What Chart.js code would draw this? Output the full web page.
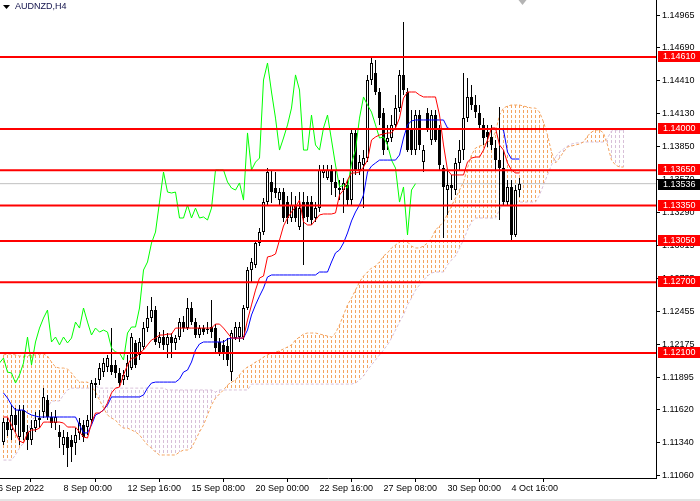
<!DOCTYPE html>
<html>
<head>
<meta charset="utf-8">
<script src="https://cdn.jsdelivr.net/npm/chart.js@4.4.0/dist/chart.umd.min.js"></script>
<style>
  html, body { margin: 0; padding: 0; background: #fff; overflow: hidden; }
</style>
</head>
<body>
<canvas id="ichimoku" width="700" height="501"></canvas>
<script>
// AUDNZD H4, one entry per bar (bar 0 = leftmost visible candle)
const opens = [
  1.11346,1.11515,1.11448,1.11575,1.11389,1.11617,1.11431,1.11363,1.11464,1.11532,
  1.11600,1.11702,1.11558,1.11507,1.11431,1.11321,1.11389,1.11363,1.11338,1.11423,
  1.11490,1.11473,1.11532,1.11846,1.11871,1.11939,1.11982,1.11999,1.11999,1.11931,
  1.11871,1.11897,1.11973,1.12186,1.12084,1.12152,1.12312,1.12397,1.12465,1.12186,
  1.12236,1.12169,1.12236,1.12186,1.12236,1.12363,1.12312,1.12482,1.12363,1.12253,
  1.12312,1.12304,1.12321,1.12312,1.12194,1.12169,1.12160,1.11939,1.12227,1.12236,
  1.12236,1.12482,1.12804,1.12847,1.13033,1.13126,1.13380,1.13550,1.13499,1.13397,
  1.13465,1.13380,1.13245,1.13355,1.13169,1.13380,1.13380,1.13380,1.13245,1.13329,
  1.13627,1.13584,1.13652,1.13550,1.13499,1.13482,1.13525,1.13397,1.13966,1.13652,
  1.13694,1.13753,1.14415,1.14475,1.14313,1.14135,1.13889,1.13923,1.14034,1.14177,
  1.14458,1.14313,1.13991,1.13821,1.14118,1.13719,1.14135,1.13906,1.14118,1.13991,
  1.13668,1.13482,1.13525,1.13482,1.13711,1.13821,1.14092,1.14271,1.14203,1.14135,
  1.14034,1.13974,1.13932,1.13838,1.13736,1.13668,1.13380,1.13508,1.13101,1.13482
];
const highs = [
  1.11549,1.11549,1.11660,1.11634,1.11660,1.11660,1.11490,1.11532,1.11600,1.11617,
  1.11803,1.11745,1.11600,1.11617,1.11490,1.11448,1.11431,1.11406,1.11464,1.11549,
  1.11532,1.11575,1.11871,1.11888,1.12016,1.12058,1.12084,1.12312,1.12041,1.11973,
  1.11956,1.12084,1.12270,1.12211,1.12227,1.12363,1.12499,1.12575,1.12499,1.12278,
  1.12295,1.12270,1.12270,1.12253,1.12397,1.12414,1.12566,1.12533,1.12397,1.12338,
  1.12338,1.12363,1.12550,1.12346,1.12227,1.12211,1.12227,1.12295,1.12363,1.12363,
  1.12508,1.12830,1.12906,1.13058,1.13160,1.13414,1.13668,1.13652,1.13635,1.13499,
  1.13499,1.13431,1.13465,1.13431,1.13465,1.13465,1.13431,1.13431,1.13380,1.13694,
  1.13694,1.13694,1.13694,1.13652,1.13567,1.13584,1.13567,1.14008,1.14008,1.13779,
  1.13821,1.14458,1.14610,1.14584,1.14347,1.14177,1.14034,1.14118,1.14288,1.14500,
  1.14906,1.14347,1.14160,1.14160,1.14160,1.13864,1.14177,1.14160,1.14160,1.14034,
  1.13694,1.13652,1.13610,1.13753,1.13906,1.14475,1.14432,1.14373,1.14288,1.14203,
  1.14092,1.14034,1.14034,1.13906,1.14186,1.13821,1.13567,1.13567,1.13525,1.13584
];
const lows = [
  1.11321,1.11397,1.11363,1.11431,1.11321,1.11363,1.11278,1.11321,1.11431,1.11464,
  1.11549,1.11532,1.11464,1.11448,1.11295,1.11236,1.11134,1.11176,1.11236,1.11363,
  1.11346,1.11406,1.11498,1.11719,1.11829,1.11897,1.11939,1.11914,1.11888,1.11812,
  1.11829,1.11871,1.11956,1.11973,1.12041,1.12126,1.12278,1.12363,1.12169,1.12143,
  1.12126,1.12058,1.12058,1.12126,1.12211,1.12278,1.12295,1.12338,1.12227,1.12227,
  1.12253,1.12261,1.12227,1.12109,1.12075,1.12041,1.11990,1.11863,1.12211,1.12194,
  1.12211,1.12465,1.12702,1.12821,1.13007,1.13101,1.13355,1.13372,1.13414,1.13355,
  1.13211,1.13194,1.13211,1.13211,1.13143,1.12847,1.13211,1.13186,1.13211,1.13296,
  1.13584,1.13567,1.13440,1.13423,1.13397,1.13288,1.13355,1.13355,1.13610,1.13610,
  1.13329,1.13719,1.14373,1.14288,1.14034,1.13779,1.13821,1.13889,1.13991,1.14143,
  1.14288,1.13804,1.13779,1.13779,1.13821,1.13635,1.13974,1.13864,1.13889,1.13652,
  1.13075,1.13271,1.13397,1.13440,1.13652,1.13736,1.14059,1.14160,1.14092,1.13991,
  1.13864,1.13847,1.13821,1.13652,1.13228,1.13355,1.13355,1.13058,1.13084,1.13423
];
const closes = [
  1.11515,1.11448,1.11575,1.11490,1.11617,1.11431,1.11363,1.11464,1.11532,1.11549,
  1.11728,1.11558,1.11507,1.11558,1.11389,1.11389,1.11295,1.11304,1.11406,1.11507,
  1.11389,1.11532,1.11846,1.11829,1.11973,1.12016,1.12058,1.11939,1.11931,1.11846,
  1.11914,1.12016,1.12236,1.11999,1.12194,1.12312,1.12397,1.12465,1.12194,1.12236,
  1.12169,1.12236,1.12186,1.12227,1.12363,1.12312,1.12482,1.12363,1.12253,1.12312,
  1.12278,1.12295,1.12278,1.12143,1.12109,1.12101,1.12041,1.12270,1.12321,1.12321,
  1.12482,1.12804,1.12872,1.13033,1.13126,1.13380,1.13635,1.13465,1.13457,1.13465,
  1.13245,1.13245,1.13355,1.13245,1.13329,1.13245,1.13254,1.13228,1.13329,1.13652,
  1.13652,1.13652,1.13550,1.13499,1.13482,1.13542,1.13397,1.13966,1.13652,1.13719,
  1.13753,1.14415,1.14559,1.14313,1.14092,1.13821,1.13923,1.14034,1.14177,1.14458,
  1.14330,1.13821,1.13821,1.14118,1.13864,1.13821,1.14008,1.14118,1.13906,1.13694,
  1.13508,1.13525,1.13499,1.13711,1.13821,1.14092,1.14271,1.14203,1.14143,1.14034,
  1.13923,1.13932,1.13864,1.13736,1.13668,1.13380,1.13508,1.13101,1.13482,1.13536
];

// Tenkan-sen (red) and Kijun-sen (blue), per bar
const tenkan = [
  1.11558,1.11558,1.11490,1.11423,1.11355,1.11338,1.11423,1.11448,1.11448,1.11464,
  1.11515,1.11515,1.11515,1.11515,1.11515,1.11507,1.11473,1.11473,1.11473,1.11431,
  1.11389,1.11380,1.11507,1.11592,1.11592,1.11617,1.11677,1.11762,1.11803,1.11812,
  1.11914,1.11999,1.12058,1.12058,1.12101,1.12126,1.12169,1.12211,1.12227,1.12253,
  1.12253,1.12261,1.12261,1.12312,1.12312,1.12312,1.12312,1.12312,1.12312,1.12312,
  1.12312,1.12312,1.12312,1.12346,1.12346,1.12312,1.12270,1.12227,1.12227,1.12227,
  1.12227,1.12380,1.12508,1.12634,1.12736,1.12753,1.12915,1.12923,1.12940,1.13058,
  1.13177,1.13245,1.13296,1.13338,1.13397,1.13211,1.13186,1.13186,1.13228,1.13271,
  1.13279,1.13279,1.13279,1.13288,1.13440,1.13482,1.13567,1.13627,1.13627,1.13635,
  1.13677,1.13736,1.13906,1.13932,1.13949,1.13957,1.13966,1.13966,1.14008,1.14092,
  1.14262,1.14313,1.14313,1.14313,1.14288,1.14271,1.14271,1.14271,1.14271,1.14118,
  1.13864,1.13652,1.13610,1.13610,1.13610,1.13610,1.13719,1.13753,1.13762,1.13762,
  1.13821,1.13906,1.14008,1.14008,1.13864,1.13821,1.13711,1.13652,1.13627,1.13627
];
const kijun = [
  1.11762,1.11719,1.11660,1.11617,1.11617,1.11617,1.11592,1.11575,1.11566,1.11558,
  1.11558,1.11558,1.11558,1.11558,1.11558,1.11558,1.11558,1.11558,1.11558,1.11490,
  1.11423,1.11423,1.11490,1.11575,1.11592,1.11617,1.11660,1.11728,1.11728,1.11728,
  1.11728,1.11728,1.11728,1.11728,1.11728,1.11745,1.11803,1.11846,1.11854,1.11854,
  1.11854,1.11854,1.11854,1.11854,1.11880,1.11939,1.11956,1.12024,1.12126,1.12177,
  1.12194,1.12194,1.12194,1.12194,1.12194,1.12194,1.12219,1.12227,1.12227,1.12227,
  1.12227,1.12295,1.12423,1.12508,1.12583,1.12651,1.12745,1.12762,1.12762,1.12762,
  1.12762,1.12762,1.12762,1.12762,1.12762,1.12762,1.12762,1.12762,1.12762,1.12787,
  1.12787,1.12787,1.12872,1.12949,1.12974,1.13033,1.13118,1.13220,1.13296,1.13355,
  1.13440,1.13635,1.13685,1.13711,1.13736,1.13736,1.13736,1.13736,1.13736,1.13779,
  1.13923,1.14034,1.14068,1.14076,1.14076,1.14076,1.14076,1.14076,1.14076,1.14076,
  1.14076,1.14008,1.14000,1.14000,1.14000,1.14000,1.14000,1.14000,1.14000,1.14000,
  1.14000,1.14000,1.14000,1.14000,1.14000,1.13991,1.13804,1.13745,1.13745,1.13745
];

// Senkou span A / B, already plotted 26 bars ahead (bars 0..155)
const spanA = [
  1.12084,1.12092,1.12092,1.12084,1.12075,1.12075,1.12075,1.12084,1.12084,1.12092,
  1.12092,1.12075,1.12024,1.11982,1.11973,1.11973,1.11965,1.11931,1.11888,1.11854,
  1.11854,1.11854,1.11820,1.11770,1.11702,1.11634,1.11575,1.11549,1.11532,1.11490,
  1.11464,1.11464,1.11448,1.11431,1.11406,1.11363,1.11321,1.11295,1.11261,1.11236,
  1.11236,1.11236,1.11236,1.11236,1.11261,1.11278,1.11278,1.11295,1.11363,1.11431,
  1.11490,1.11575,1.11660,1.11719,1.11753,1.11787,1.11829,1.11854,1.11871,1.11914,
  1.11956,1.11982,1.11999,1.12024,1.12041,1.12067,1.12084,1.12101,1.12109,1.12118,
  1.12135,1.12152,1.12169,1.12211,1.12236,1.12261,1.12270,1.12270,1.12270,1.12261,
  1.12253,1.12244,1.12236,1.12270,1.12338,1.12423,1.12508,1.12566,1.12634,1.12702,
  1.12753,1.12787,1.12821,1.12838,1.12872,1.12923,1.12949,1.12991,1.13016,1.13041,
  1.13058,1.13041,1.13007,1.12991,1.12991,1.13007,1.13033,1.13075,1.13143,1.13177,
  1.13211,1.13279,1.13346,1.13414,1.13482,1.13550,1.13668,1.13779,1.13838,1.13855,
  1.13864,1.13889,1.13906,1.13974,1.14118,1.14177,1.14194,1.14203,1.14203,1.14203,
  1.14194,1.14186,1.14177,1.14177,1.14143,1.14059,1.13949,1.13804,1.13711,1.13753,
  1.13804,1.13847,1.13855,1.13864,1.13872,1.13889,1.13940,1.13974,1.13991,1.13991,
  1.13966,1.13864,1.13736,1.13694,1.13677,1.13677
];
const spanB = [
  1.11193,1.11193,1.11193,1.11236,1.11295,1.11338,1.11406,1.11532,1.11558,1.11558,
  1.11558,1.11634,1.11694,1.11694,1.11694,1.11745,1.11787,1.11803,1.11803,1.11803,
  1.11803,1.11803,1.11803,1.11820,1.11803,1.11803,1.11803,1.11803,1.11803,1.11803,
  1.11803,1.11803,1.11803,1.11803,1.11803,1.11803,1.11803,1.11803,1.11803,1.11803,
  1.11803,1.11787,1.11787,1.11787,1.11787,1.11787,1.11787,1.11787,1.11787,1.11787,
  1.11787,1.11787,1.11787,1.11770,1.11787,1.11787,1.11787,1.11787,1.11787,1.11787,
  1.11787,1.11787,1.11837,1.11837,1.11837,1.11837,1.11837,1.11837,1.11837,1.11837,
  1.11837,1.11837,1.11837,1.11837,1.11837,1.11837,1.11837,1.11837,1.11837,1.11837,
  1.11837,1.11837,1.11837,1.11837,1.11837,1.11837,1.11837,1.11837,1.11846,1.11871,
  1.11905,1.11956,1.11999,1.12041,1.12084,1.12126,1.12169,1.12227,1.12295,1.12363,
  1.12423,1.12508,1.12566,1.12634,1.12677,1.12719,1.12753,1.12779,1.12787,1.12787,
  1.12787,1.12847,1.12889,1.12923,1.12991,1.13058,1.13143,1.13211,1.13245,1.13245,
  1.13245,1.13245,1.13245,1.13245,1.13313,1.13380,1.13380,1.13380,1.13380,1.13380,
  1.13380,1.13380,1.13380,1.13380,1.13440,1.13525,1.13610,1.13694,1.13762,1.13804,
  1.13830,1.13855,1.13872,1.13881,1.13881,1.13889,1.13889,1.13889,1.13889,1.13889,
  1.13889,1.13923,1.13983,1.13991,1.13991,1.13991
];

const chikouShift = 26;
const levels = [1.14610, 1.14000, 1.13650, 1.13350, 1.13050, 1.12700, 1.12100];
const lastPrice = 1.13536;
const priceTicks = [1.14965, 1.14690, 1.14410, 1.14130, 1.13850, 1.13570, 1.13290, 1.13015,
                    1.12735, 1.12455, 1.12175, 1.11895, 1.11620, 1.11340, 1.11060];
const timeTickBars = [-1.4, 15, 31, 47, 63, 79, 95, 111, 127];
const timeTickLabels = ['6 Sep 2022', '8 Sep 00:00', '12 Sep 16:00', '15 Sep 08:00', '20 Sep 00:00',
                        '22 Sep 16:00', '27 Sep 08:00', '30 Sep 00:00', '4 Oct 16:00'];

const FONT = '"Liberation Sans", Arial, sans-serif';
const canvas = document.getElementById('ichimoku');
const ctx2d = canvas.getContext('2d');

function dotPattern(color) {
  const c = document.createElement('canvas');
  c.width = 1; c.height = 5;
  const g = c.getContext('2d');
  g.fillStyle = color;
  g.fillRect(0, 0, 1, 3);
  return ctx2d.createPattern(c, 'repeat');
}
const sandPattern = dotPattern('#f4a460');
const thistlePattern = dotPattern('#d8bfd8');

const xy = (arr, shift) => arr.map((v, i) => ({x: i + (shift || 0), y: v}));
const hline = (v) => [{x: -2, y: v}, {x: 165, y: v}];

const overlay = {
  id: 'overlay',
  afterDraw(chart) {
    const {ctx, chartArea, scales: {x, y}} = chart;
    ctx.save();
    ctx.font = '9px ' + FONT;
    ctx.textBaseline = 'middle';
    ctx.textAlign = 'left';
    levels.forEach(v => {
      const py = Math.round(y.getPixelForValue(v));
      ctx.fillStyle = '#ff0000';
      ctx.fillRect(chartArea.right + 2, py - 6, 42, 11);
      ctx.fillStyle = '#ffffff';
      ctx.fillText(v.toFixed(5), chartArea.right + 7, py);
    });
    const pl = Math.round(y.getPixelForValue(lastPrice));
    ctx.fillStyle = '#000000';
    ctx.fillRect(chartArea.right + 2, pl - 5, 42, 11);
    ctx.fillStyle = '#ffffff';
    ctx.fillText(lastPrice.toFixed(5), chartArea.right + 7, pl + 1);

    // symbol caption
    ctx.fillStyle = '#000000';
    ctx.beginPath();
    ctx.moveTo(3, 5); ctx.lineTo(10, 5); ctx.lineTo(6.5, 9); ctx.closePath();
    ctx.fill();
    ctx.fillStyle = '#10104a';
    ctx.fillText('AUDNZD,H4', 15, 7);

    // chart shift marker
    const sx = Math.round(x.getPixelForValue(closes.length - 0.4)) + 0.5;
    ctx.fillStyle = '#b4b4b4';
    ctx.beginPath();
    ctx.moveTo(sx - 4, 0); ctx.lineTo(sx + 4, 0); ctx.lineTo(sx, 5); ctx.closePath();
    ctx.fill();

    ctx.fillStyle = '#e4e4e4';
    ctx.fillRect(0, 499, chart.width, 2);
    ctx.restore();
  }
};

new Chart(canvas, {
  type: 'bar',
  data: {
    datasets: [
      // horizontal levels
      ...levels.map(v => ({
        type: 'line', data: hline(v), borderColor: '#ff0000', borderWidth: 2,
        pointRadius: 0, order: 0
      })),
      {
        type: 'line', label: 'Tenkan', data: xy(tenkan), borderColor: '#ff0000',
        borderWidth: 1, pointRadius: 0, order: 1
      },
      {
        type: 'line', label: 'Kijun', data: xy(kijun), borderColor: '#0000ff',
        borderWidth: 1, pointRadius: 0, order: 1
      },
      {
        type: 'line', label: 'Chikou', data: xy(closes, -chikouShift), borderColor: '#00ff00',
        borderWidth: 1, pointRadius: 0, order: 1
      },
      {
        label: 'Bodies',
        data: opens.map((o, i) => ({x: i, y: [o, closes[i]]})),
        backgroundColor: ctx => closes[ctx.dataIndex] >= opens[ctx.dataIndex] ? '#ffffff' : '#000000',
        borderColor: '#000000', borderWidth: 1, borderSkipped: false,
        barThickness: 3, grouped: false, inflateAmount: 0, order: 2
      },
      {
        label: 'Wicks',
        data: lows.map((l, i) => ({x: i, y: [l, highs[i]]})),
        backgroundColor: '#000000', borderWidth: 0,
        barThickness: 1, grouped: false, inflateAmount: 0, order: 3
      },
      {
        type: 'line', label: 'Bid', data: hline(lastPrice), borderColor: '#c0c0c0',
        borderWidth: 1, pointRadius: 0, order: 4
      },
      {
        type: 'line', label: 'Span A', data: xy(spanA), borderColor: '#f4a460',
        borderWidth: 1, borderDash: [3, 2], pointRadius: 0, order: 5
      },
      {
        type: 'line', label: 'Span B', data: xy(spanB), borderColor: '#d8bfd8',
        borderWidth: 1, borderDash: [3, 2], pointRadius: 0, order: 5
      },
      {
        label: 'Kumo',
        data: spanA.map((a, i) => ({x: i, y: [a, spanB[i]]})),
        backgroundColor: ctx => spanA[ctx.dataIndex] >= spanB[ctx.dataIndex] ? sandPattern : thistlePattern,
        borderWidth: 0, barThickness: 1, grouped: false, inflateAmount: 0, order: 6
      }
    ]
  },
  options: {
    animation: false,
    responsive: false,
    events: [],
    layout: { padding: 0 },
    plugins: { legend: { display: false }, tooltip: { enabled: false } },
    scales: {
      x: {
        type: 'linear', position: 'bottom', min: -0.875, max: 163.125, offset: false,
        afterBuildTicks: s => { s.ticks = timeTickBars.map(v => ({value: v})); },
        afterFit: s => { s.height = 23; s.paddingLeft = 0; s.paddingRight = 0; },
        ticks: {
          autoSkip: false, maxRotation: 0, align: 'start', padding: 1, color: '#000',
          font: { family: FONT, size: 9 },
          callback: (v, i) => timeTickLabels[i]
        },
        grid: { drawOnChartArea: false, drawTicks: true, tickLength: 4, color: '#000' },
        border: { color: '#000', width: 1 }
      },
      y: {
        type: 'linear', position: 'right', min: 1.11041, max: 1.15093,
        afterBuildTicks: s => { s.ticks = priceTicks.map(v => ({value: v})); },
        afterFit: s => { s.width = 44; s.paddingTop = 0; s.paddingBottom = 0; },
        ticks: {
          padding: 2, color: '#000', font: { family: FONT, size: 9 },
          callback: v => v.toFixed(5)
        },
        grid: { drawOnChartArea: false, drawTicks: true, tickLength: 4, color: '#000' },
        border: { color: '#000', width: 1 }
      }
    }
  },
  plugins: [overlay]
});
</script>
</body>
</html>
